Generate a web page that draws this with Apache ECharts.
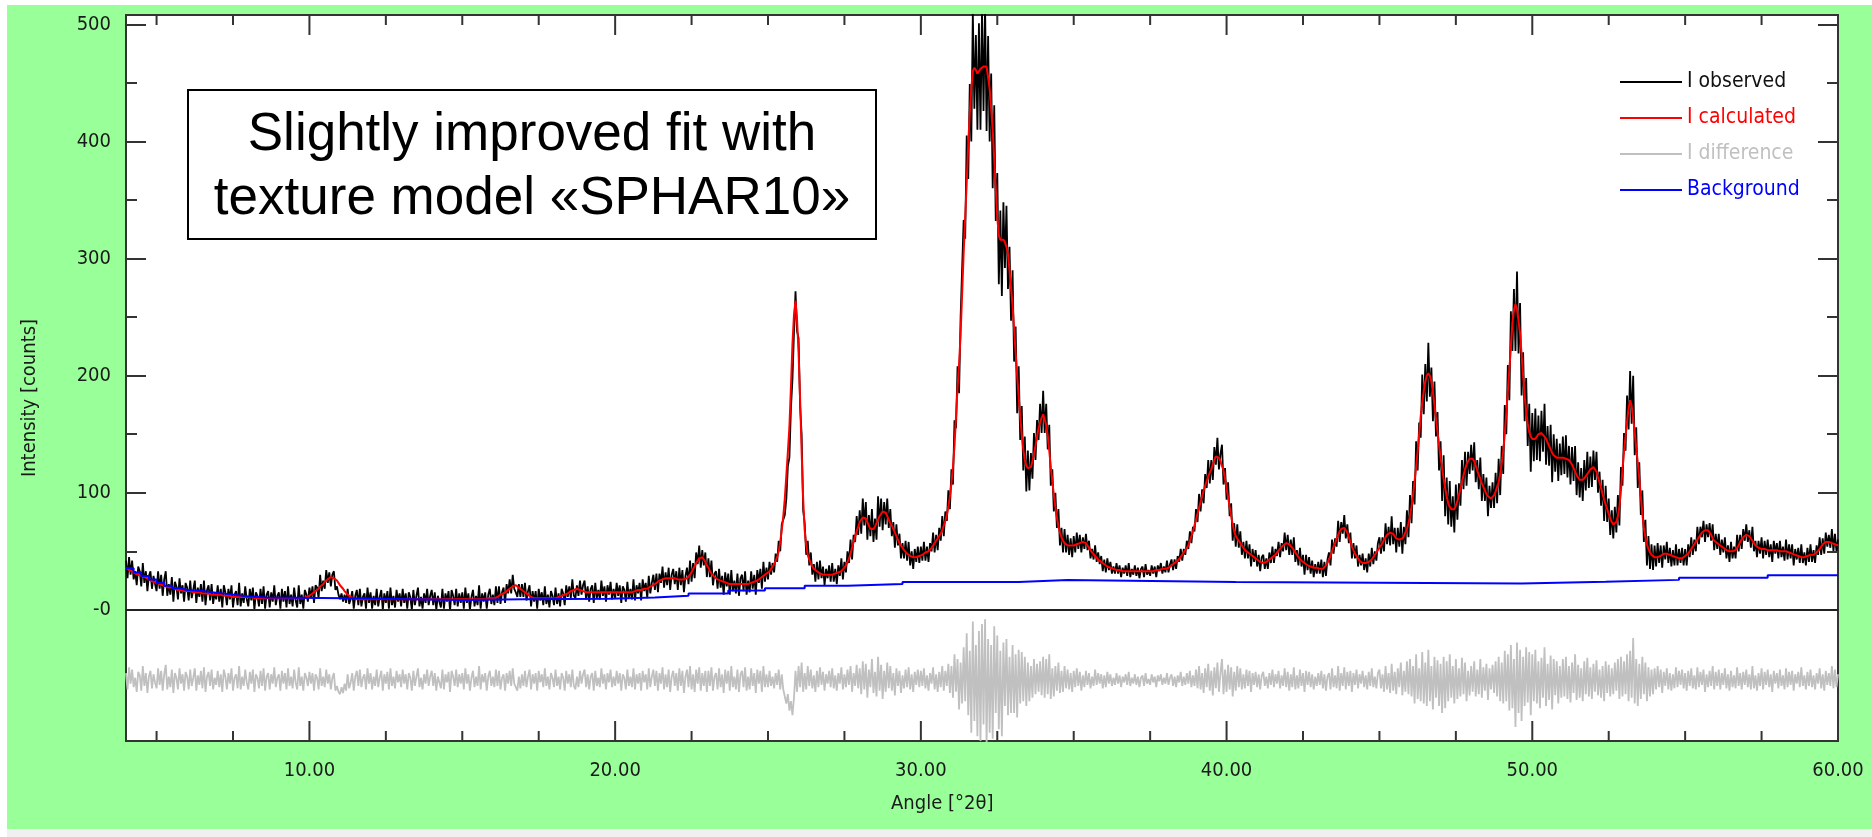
<!DOCTYPE html>
<html><head><meta charset="utf-8">
<script src="https://cdn.jsdelivr.net/npm/echarts@6/dist/echarts.min.js"></script>
<style>
html,body{margin:0;padding:0;width:1872px;height:837px;overflow:hidden;background:#fff;}
#green{position:absolute;left:7px;top:5px;width:1865px;height:824px;background:#99ff99;}
#strip{position:absolute;left:7px;top:829px;width:1865px;height:8px;background:#f0f0f0;}
#plotbg{position:absolute;left:126px;top:15px;width:1712px;height:726px;background:#fff;}
#chart{position:absolute;left:0;top:0;width:1872px;height:837px;}
</style></head><body>
<div id="green"></div><div id="strip"></div><div id="plotbg"></div><div id="chart"></div>
<script>
// sampling grid of the scan (degrees 2theta)
const angleStart = 4.0, angleStep = 0.05;

// I calculated, one row per degree (20 points each)
const calculated = [
36,35,34,33,33,32,31,31,30,29,29,28,28,27,27,26,25,25,24,24,
23,23,22,22,21,21,20,20,19,19,19,18,18,18,17,17,17,16,16,16,
16,16,16,15,15,15,15,15,15,14,14,14,14,14,14,13,13,13,13,13,
13,13,13,12,12,12,12,12,12,11,11,11,11,11,11,11,11,11,11,11,
11,11,11,10,10,10,10,10,10,10,10,10,10,10,10,10,10,10,10,10,
10,10,10,10,10,10,10,10,10,10,10,10,10,10,10,10,10,11,11,12,
12,13,14,15,16,17,18,20,21,22,24,25,26,27,28,28,27,26,25,23,
21,20,18,16,15,13,12,11,10,10,9,9,9,9,9,9,9,9,9,9,
9,9,9,9,9,9,9,9,9,9,9,9,9,9,9,9,9,9,9,9,
9,9,9,9,9,9,9,9,9,9,9,9,9,9,9,9,9,9,9,9,
9,9,9,9,9,9,9,9,9,9,9,9,9,9,9,9,9,9,9,9,
9,9,9,9,9,9,9,9,9,9,9,9,9,9,9,9,10,10,10,10,
10,10,11,11,12,13,13,14,15,16,17,18,19,20,21,21,20,19,18,17,
16,15,14,13,12,11,11,10,10,10,10,10,10,10,10,10,10,10,10,10,
10,10,10,11,11,12,12,13,13,14,15,16,17,17,18,18,18,17,16,16,
16,15,15,15,15,15,15,15,15,15,15,15,15,15,15,15,15,15,15,15,
15,15,15,15,15,15,15,15,15,15,15,15,16,16,16,17,17,17,18,18,
18,18,19,20,20,21,22,23,24,25,26,26,27,27,27,27,27,27,27,27,
27,26,26,26,26,26,26,27,28,30,32,35,37,40,42,44,45,45,43,41,
38,36,33,31,30,28,27,26,25,25,24,24,23,23,23,22,22,22,22,22,
22,22,22,22,22,22,22,22,23,23,23,24,24,25,26,27,28,29,30,31,
32,33,35,37,39,42,45,50,58,68,80,95,115,135,156,190,227,252,264,248,
220,180,135,95,68,55,47,43,40,37,35,34,33,32,31,31,30,30,30,30,
30,30,30,31,31,31,32,32,33,34,36,38,41,44,48,53,58,63,67,71,
75,77,79,80,78,75,72,69,68,69,71,74,77,80,82,84,84,83,80,77,
74,72,69,66,63,60,57,55,53,51,50,48,47,46,45,45,45,45,45,46,
46,47,48,49,50,50,51,53,55,57,59,61,63,65,68,72,76,81,88,97,
108,122,140,165,190,210,235,270,305,335,365,398,424,445,460,463,461,458,459,462,
463,464,465,464,455,445,428,410,385,360,335,320,316,316,316,314,310,304,290,275,
260,240,220,200,182,165,150,137,128,123,121,120,122,127,133,140,148,155,160,164,
167,166,158,149,136,122,110,98,88,79,71,66,62,59,57,56,55,55,55,55,
55,55,56,57,57,58,58,58,57,55,53,51,49,48,46,45,43,42,41,40,
39,38,37,37,36,36,35,35,34,34,34,34,33,33,33,33,33,33,33,33,
33,33,33,33,33,33,33,33,33,33,33,33,33,34,34,34,34,35,35,35,
35,36,36,37,38,39,40,41,42,43,45,47,49,51,53,55,59,63,67,72,
77,82,87,92,97,102,106,110,114,117,120,124,128,131,132,130,127,123,119,112,
104,96,88,80,73,67,63,61,59,57,55,53,51,50,49,48,47,46,45,44,
43,42,41,41,40,40,41,42,43,44,45,46,47,49,50,52,53,55,56,57,
57,56,55,53,51,49,47,45,44,42,41,40,39,38,38,37,37,36,36,36,
35,35,35,35,36,38,40,43,46,50,54,57,61,64,67,69,70,70,69,66,
62,58,54,51,48,46,44,42,41,40,40,40,40,41,42,43,45,47,49,51,
53,55,57,60,62,64,65,66,66,65,63,61,60,60,60,61,63,66,69,74,
80,88,98,110,122,135,150,165,177,187,195,200,202,200,195,186,175,163,152,141,
130,121,112,104,97,91,88,86,85,86,89,93,98,103,109,115,120,124,127,129,
129,129,127,123,119,115,112,108,105,102,99,97,96,95,96,98,101,105,109,116,
125,136,150,168,187,205,225,245,256,261,257,247,236,218,200,183,170,159,152,148,
146,145,146,148,150,151,151,150,148,146,143,140,137,134,132,131,130,130,130,130,
130,130,129,129,128,126,124,121,118,115,113,111,111,111,112,114,116,118,120,121,
122,121,118,113,109,104,99,94,90,86,82,78,75,73,73,75,80,88,102,120,
135,148,161,172,179,174,164,152,138,126,112,97,82,70,62,56,52,49,47,46,
45,45,45,46,46,47,48,48,48,48,47,46,46,45,45,44,44,44,44,45,
46,47,48,50,52,54,56,58,60,62,64,66,67,68,68,68,66,64,61,59,
58,57,56,55,54,53,52,51,50,50,50,50,50,51,53,55,58,60,62,63,
64,64,63,61,59,57,55,54,53,53,52,52,52,51,51,51,51,51,51,51,
51,51,50,50,50,50,50,49,49,48,48,47,47,46,46,46,45,45,45,46,
46,46,47,47,47,48,49,50,52,54,56,57,58,58,58,58,57,57,56,56,
55
];

// I difference = I observed - I calculated, same grid
const difference = [
6,-8,11,-3,9,-6,2,-10,7,4,-9,12,-5,6,-11,3,8,-7,5,-2,
-7,10,-4,8,-9,5,13,-8,3,-6,9,-11,6,2,-8,10,-3,5,-9,7,
3,-8,9,-5,2,10,-9,4,-4,8,-7,11,-10,3,7,-5,9,-8,2,-4,
8,-6,5,-10,9,3,-8,6,-3,10,-9,2,5,-7,12,-8,3,-5,9,-2,
-8,7,-3,9,-10,5,2,-7,8,-5,10,-9,3,6,-8,5,-3,11,-6,2,
5,-9,8,-3,6,-8,10,-5,3,-7,9,-2,-8,11,-5,3,-9,6,2,-5,
7,-3,6,-9,5,2,-8,10,-5,3,-6,9,-3,5,-8,2,6,-9,-5,-10,
-12,-6,-11,-3,-9,5,-7,-2,6,-9,3,8,-5,9,-6,2,5,-8,10,-3,
6,-8,3,-5,9,-6,2,8,-9,5,-3,7,-8,10,-5,3,-7,8,-2,5,
-6,9,-3,5,-8,6,2,-9,8,-5,3,10,-6,2,-8,5,-3,9,-5,3,
8,-5,6,-9,3,2,-7,9,-8,5,-2,7,-10,8,3,-5,9,-6,5,-3,
6,-8,10,-3,5,-9,2,8,-6,3,-5,12,-8,5,-2,6,-9,3,8,-5,
3,-6,9,-5,8,-8,2,5,-9,6,-3,8,-5,10,-3,-6,-9,3,-7,5,
-5,8,-6,3,9,-8,5,-3,6,-9,8,-2,5,-6,10,-5,3,-8,6,2,
-6,9,-5,3,-8,6,2,-9,8,-3,5,-6,9,-5,-8,3,-6,8,-3,5,
9,-6,5,-8,3,6,-9,8,-5,2,-6,10,-3,5,-8,6,-2,9,-6,3,
-5,8,-3,6,-9,5,2,-8,9,-5,3,-6,10,-8,5,-3,6,-9,8,-2,
5,-8,10,-6,3,9,-5,8,-9,6,-3,11,-8,5,-6,9,-10,3,8,-5,
6,-9,10,-5,8,-11,3,9,-6,12,-8,5,-10,9,-3,11,-9,6,-5,8,
-10,8,-5,11,-9,3,6,-8,10,-6,5,-11,9,-3,8,-9,12,-6,3,-8,
9,-10,5,8,-6,11,-9,3,-8,10,-5,6,-11,9,-3,8,-10,12,-6,5,
-6,8,-5,3,-7,6,-4,9,-8,5,-8,-14,-20,-12,-26,-18,-30,-15,8,-10,
12,-6,15,-10,6,-8,12,-5,9,-7,4,-10,8,-6,11,-4,7,-9,5,-3,
8,-6,10,-7,4,-9,6,-3,11,-8,5,-6,9,-4,12,-10,6,-5,13,-7,
10,-12,16,-8,14,-15,9,-6,18,-11,7,-14,20,-9,13,-16,8,-10,15,-7,
12,-9,6,-13,10,-5,8,-11,4,-7,9,-6,11,-8,5,-10,7,-4,9,-6,
8,-5,10,-7,4,-9,6,-3,11,-8,5,-10,7,-6,12,-9,8,-5,14,-11,
12,-15,22,-10,18,-25,15,-20,28,-18,40,-30,25,-45,50,-35,30,-48,42,-52,
48,-38,52,-55,35,-45,30,-50,46,-28,38,-42,25,-48,32,-22,35,-30,20,-28,
30,-28,22,-32,26,-20,24,-18,20,-22,15,-18,12,-15,18,-12,14,-10,16,-13,
20,-15,18,-12,22,-16,10,-14,12,-9,15,-11,8,-10,12,-7,9,-8,6,-10,
8,-6,10,-5,7,-9,4,-6,8,-4,6,-7,3,-5,9,-4,6,-3,5,-7,
4,-6,7,-3,5,-5,2,-4,6,-3,4,-6,3,-2,5,-4,7,-5,2,-3,
5,-4,3,-6,2,4,-5,6,-3,1,-4,5,-2,3,-6,4,-1,5,-4,2,
-3,6,-4,2,5,-5,3,-6,4,-2,7,-5,3,-4,6,-3,8,-6,4,-5,
9,-7,12,-8,6,-11,10,-6,14,-9,8,-13,11,-7,15,-10,6,18,-12,9,
-10,13,-8,11,-14,7,-9,12,-6,10,-8,5,-7,9,-5,8,-10,6,-4,7,
-6,5,-8,4,7,-5,3,-7,6,-4,9,-6,5,-3,8,-7,4,-5,10,-6,
7,-9,5,-6,11,-8,4,-7,9,-5,6,-10,8,-4,7,-6,5,-8,3,-5,
6,-4,8,-7,5,-9,3,6,-8,10,-6,4,-7,12,-9,6,-5,11,-8,7,
-5,8,-10,6,-4,9,-7,5,-3,8,-6,4,-8,7,-5,10,-6,3,-7,6,
9,-7,5,-10,12,-8,6,-11,14,-9,7,-12,10,-6,15,-13,8,-10,16,-12,
18,-14,12,-20,22,-16,10,-18,24,-20,15,-22,26,-18,12,-25,20,-15,17,-22,
14,-28,20,-24,16,-18,22,-15,12,-20,18,-16,10,-14,19,-12,15,-18,8,-13,
12,-10,16,-14,9,-12,18,-15,11,-9,14,-17,10,-8,13,-11,16,-14,20,-18,
15,-20,25,-18,22,-26,30,-24,18,-40,32,-28,26,-35,20,-22,28,-19,24,-30,
22,-18,26,-20,16,-24,19,-15,28,-22,14,-17,21,-25,18,-13,16,-20,12,-15,
18,-14,20,-16,12,-19,15,-11,22,-17,13,-15,10,-18,16,-12,19,-14,11,-16,
14,-10,17,-13,9,-15,12,-18,16,-11,13,-14,10,-12,15,-9,18,-16,20,-14,
16,-12,22,-18,25,-15,36,-20,18,-22,14,-16,20,-12,15,-18,11,-14,9,-12,
10,-8,12,-6,9,-11,7,-5,10,-8,6,-9,5,-7,11,-6,8,-4,9,-7,
6,-9,8,-5,10,-7,4,-8,11,-6,7,-4,9,-10,5,-6,8,-5,12,-8,
7,-5,9,-8,6,-4,10,-7,5,-9,8,-6,4,-7,11,-5,6,-8,7,-4,
9,-6,5,-8,12,-7,4,-9,6,-5,10,-8,7,-4,9,-6,5,-10,8,-3,
6,-7,9,-5,4,-8,10,-6,7,-4,8,-9,5,-3,7,-6,11,-5,4,-8,
7,-5,9,-6,4,-8,6,-3,10,-7,5,-9,8,-4,6,-5,12,-7,9,-6,
5
];

// Background (stepwise), each value holds from its angle to the next
const bgAngles = [4.0,4.25,4.5,4.75,5.0,5.25,5.5,5.75,6.0,6.5,7.0,7.5,8.0,8.6,11.27,15.0,17.0,19.8,21.3,22.4,23.7,24.9,26.2,27.6,29.4,33.2,34.8,40.3,49.65,52.4,54.8,57.7,60.0];
const bgValues = [35.5,32,29,26,23,20.5,18.5,17,16,14.5,13,11.5,10.5,10,8.5,9,9.5,10.5,12,14,16.5,18.5,20.5,22,23.8,25.5,23.8,22.5,24,25.6,27.5,29.5,29.5];

const xLabels = [10,20,30,40,50,60];
const xMajorTicks = [10,20,30,40,50,60];
const xMinorTicks = [5,7.5,12.5,15,17.5,22.5,25,27.5,32.5,35,37.5,42.5,45,47.5,52.5,55,57.5];
const yLabels = [0,100,200,300,400,500];
const yMajorTicks = [100,200,300,400,500];
const yMinorTicks = [50,150,250,350,450];
const diffOffset = -60;

const X_MIN = 4, X_MAX = 60, Y_MIN = -112, Y_MAX = 508;
const F = "'DejaVu Sans Condensed', 'DejaVu Sans', sans-serif";
const tickLine = {color:'#333', width:2};

const angles = calculated.map((_, i) => +(angleStart + i * angleStep).toFixed(2));
const obsData = angles.map((a, i) => [a, calculated[i] + difference[i]]);
const calcData = angles.map((a, i) => [a, calculated[i]]);
const diffData = angles.map((a, i) => [a, difference[i] + diffOffset]);
const bgData = bgAngles.map((a, i) => [a, bgValues[i]]);

function yAx(pos, major, labels) {
  return {
    type:'value', min:Y_MIN, max:Y_MAX, position:pos, z:10,
    axisLine:{show:false, onZero:false}, splitLine:{show:false},
    axisTick:{show:true, inside:true, length: major ? 20 : 11, customValues: major ? yMajorTicks : yMinorTicks, lineStyle:tickLine},
    axisLabel: labels ? {show:true, customValues:yLabels, formatter:(v)=> v === 0 ? '-0' : String(v), fontSize:20, fontFamily:F, color:'#1a1a1a', margin:15} : {show:false}
  };
}

const baseGraphic = [
  {type:'rect', z:100, shape:{x:188, y:90, width:688, height:149}, style:{fill:'#fff', stroke:'#000', lineWidth:2}},
  {type:'text', z:101, x:532, y:167, style:{text:'Slightly improved fit with\ntexture model «SPHAR10»', fontSize:53, fontFamily:"'Liberation Sans', Arial, sans-serif", fill:'#000', align:'center', verticalAlign:'middle', lineHeight:64}},
  {type:'text', z:101, x:30, y:398, rotation:Math.PI/2, style:{text:'Intensity [counts]', fontSize:20, fontFamily:F, fill:'#1a1a1a', align:'center', verticalAlign:'middle'}},
  {type:'text', z:101, x:891, y:804, style:{text:'Angle [°2θ]', fontSize:20, fontFamily:F, fill:'#1a1a1a', align:'left', verticalAlign:'middle'}}
];

const chart = echarts.init(document.getElementById('chart'), null, {renderer:'canvas'});
chart.setOption({
  animation:false,
  backgroundColor:'transparent',
  grid:{left:126, right:34, top:15, bottom:96, show:true, backgroundColor:'transparent', borderColor:'#333', borderWidth:2, containLabel:false},
  xAxis:[{
    type:'value', min:X_MIN, max:X_MAX, position:'bottom', z:10,
    axisLine:{show:false, onZero:false}, splitLine:{show:false},
    axisTick:{show:false},
    axisLabel:{show:true, customValues:xLabels, formatter:(v)=>v.toFixed(2), fontSize:20, fontFamily:F, color:'#1a1a1a', margin:20}
  }],
  yAxis:[yAx('left', true, true), yAx('left', false, false), yAx('right', true, false), yAx('right', false, false)],
  legend:{
    orient:'vertical', left:1615, top:66, itemWidth:62, itemHeight:2, itemGap:14, selectedMode:false, icon:'rect',
    textStyle:{fontSize:21, fontFamily:F, lineHeight:22},
    data:[
      {name:'I observed', textStyle:{color:'#111'}},
      {name:'I calculated', textStyle:{color:'#ff0000'}},
      {name:'I difference', textStyle:{color:'#c0c0c0'}},
      {name:'Background', textStyle:{color:'#0000ff'}}
    ]
  },
  series:[
    {name:'I difference', type:'line', data:diffData, symbol:'none', lineStyle:{color:'#c0c0c0', width:1.8}, itemStyle:{color:'#c0c0c0'}, z:2},
    {name:'I observed', type:'line', data:obsData, symbol:'none', lineStyle:{color:'#000', width:1.8}, itemStyle:{color:'#000'}, z:3,
      markLine:{silent:true, symbol:'none', label:{show:false}, lineStyle:{color:'#222', width:2, type:'solid'}, data:[{yAxis:0}]}},
    {name:'I calculated', type:'line', data:calcData, symbol:'none', lineStyle:{color:'#ff0000', width:2}, itemStyle:{color:'#ff0000'}, z:4},
    {name:'Background', type:'line', data:bgData, step:'end', symbol:'none', lineStyle:{color:'#0000ff', width:2}, itemStyle:{color:'#0000ff'}, z:5}
  ],
  graphic: baseGraphic
});

// inward tick marks on the bottom and top frame, placed through the chart's x scale
const tickEls = [];
function addTicks(vals, len) {
  vals.forEach(v => {
    const b = chart.convertToPixel({xAxisIndex:0, yAxisIndex:0}, [v, Y_MIN]);
    const t = chart.convertToPixel({xAxisIndex:0, yAxisIndex:0}, [v, Y_MAX]);
    if (!b || !t) return;
    tickEls.push({type:'line', z:50, silent:true, shape:{x1:b[0], y1:b[1], x2:b[0], y2:b[1] - len}, style:{stroke:'#333', lineWidth:2}});
    tickEls.push({type:'line', z:50, silent:true, shape:{x1:t[0], y1:t[1], x2:t[0], y2:t[1] + len}, style:{stroke:'#333', lineWidth:2}});
  });
}
addTicks(xMajorTicks, 20);
addTicks(xMinorTicks, 10);
chart.setOption({graphic: baseGraphic.concat(tickEls)});
</script>
</body></html>
